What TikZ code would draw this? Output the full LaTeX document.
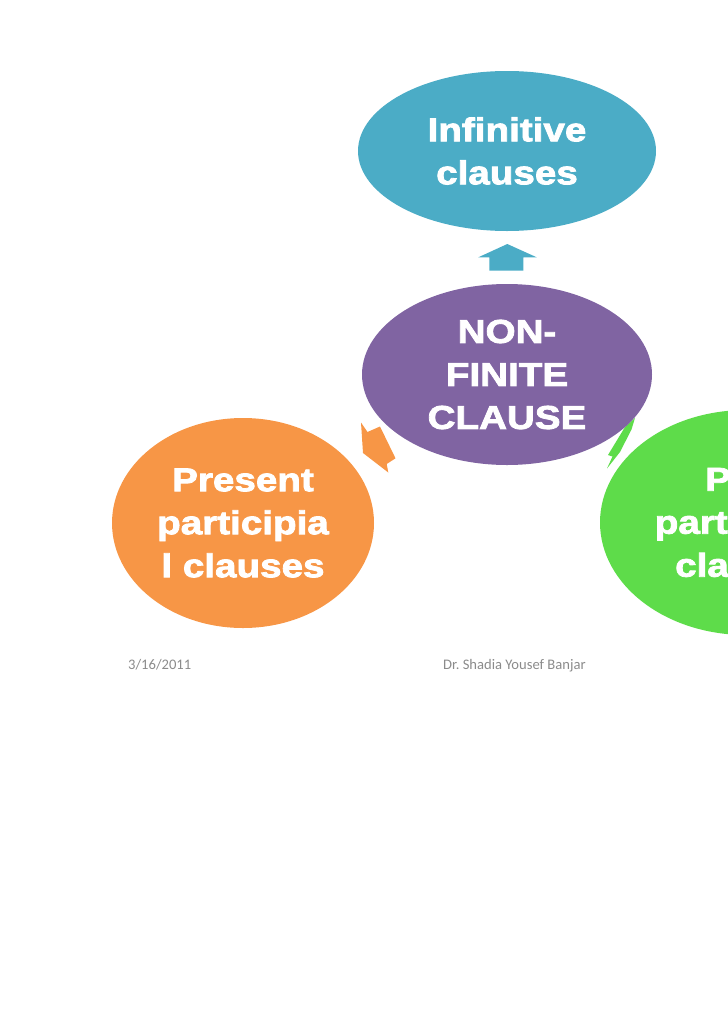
\documentclass[tikz,border=0pt]{standalone}
\usepackage{fontspec}
\usetikzlibrary{shapes.geometric}
\newfontfamily\slidefont[FakeStretch=1.17,BoldFeatures={FakeBold=2.4}]{Liberation Sans}
\newfontfamily\footfont{Carlito}
\definecolor{infblue}{RGB}{75,172,198}
\definecolor{nfpurple}{RGB}{128,100,162}
\definecolor{presorange}{RGB}{247,150,70}
\definecolor{pastgreen}{RGB}{94,220,74}
\definecolor{footgray}{RGB}{139,139,139}

\begin{document}
\begin{tikzpicture}[x=1pt,y=-1pt,
    bubble/.style={ellipse,inner sep=0pt,align=center,text=white,
        font=\slidefont\bfseries\fontsize{33}{43}\selectfont},
    foot/.style={anchor=base west,text=footgray,inner sep=0pt,
        font=\footfont\fontsize{14.6}{17}\selectfont}]
                \useasboundingbox (0,0) rectangle (728,1031);
                \clip (0,0) rectangle (728,1031);
                % arrows between the bubbles
                \fill [infblue] (507.3,244) -- (536.7,257.3) -- (523.3,257.3) -- (523.3,270.7)
                    -- (489.3,270.7) -- (489.3,257.3) -- (478.3,257.3) -- cycle;
                \fill [presorange] (361,422.5) -- (367.5,432) -- (380,426.5) -- (395.5,458.3)
                    -- (386.7,464) -- (388.3,472.5) -- (363,453) -- cycle;
                \fill [pastgreen] (635,418) -- (631.5,429.5) -- (620,452) -- (607,468.5)
                    -- (612.5,456.5) -- (608,455) -- (625,427) -- cycle;
                % bubbles
                \node [bubble,fill=infblue,minimum width=298pt,minimum height=160pt] (infinitive) at (507,151) {Infinitive\\clauses};
                \node [bubble,fill=nfpurple,minimum width=290pt,minimum height=181pt] (nonfinite) at (507,374.5) {NON-\\FINITE\\CLAUSE};
                \node [bubble,fill=presorange,minimum width=262pt,minimum height=210pt] (present) at (243,523) {Present\\participia\\l clauses};
                \node [bubble,fill=pastgreen,minimum width=292pt,minimum height=225pt] (past) at (746,522.5) {Past\\participial\\clauses};
                % footer
                \node [foot] (date) at (128,669) {3/16/2011};
                \node [foot] (author) at (443,669) {Dr.\ Shadia Yousef Banjar};
            \end{tikzpicture}
\end{document}
